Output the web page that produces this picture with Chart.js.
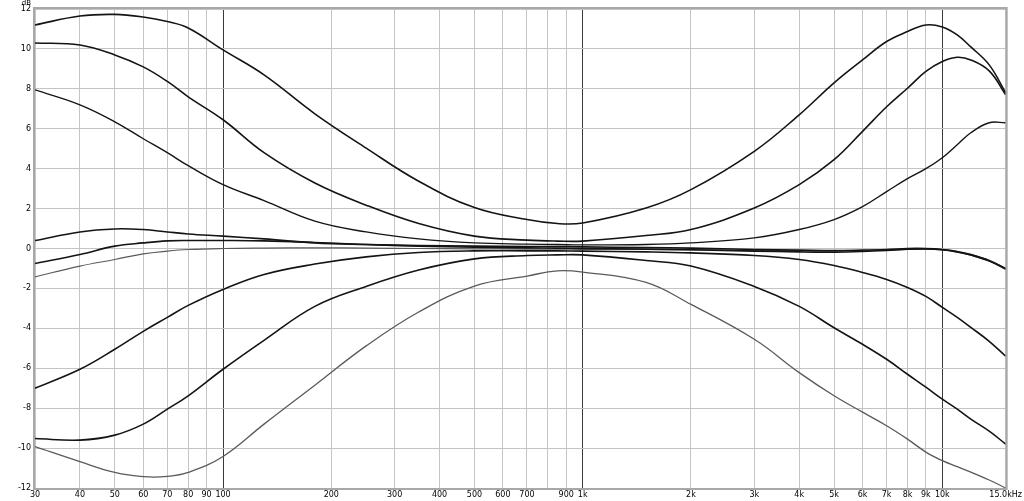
<!DOCTYPE html>
<html>
<head>
<meta charset="utf-8">
<script src="https://cdn.jsdelivr.net/npm/chart.js@4.4.1/dist/chart.umd.min.js"></script>
<style>
  html, body { margin: 0; padding: 0; background: #fff; }
  #wrap { width: 1024px; height: 501px; position: relative; }
</style>
</head>
<body>
<div id="wrap"><canvas id="eq"></canvas></div>
<script>
// frequency points (Hz) shared by every curve
const freqs = [30, 40, 50, 60, 70, 80, 100, 130, 180, 250, 350, 500, 700, 850, 1000,
  1500, 2000, 3000, 4000, 5000, 6000, 7000, 8000, 9000, 10000, 11000, 12000, 13500, 15000];

// gain curves, dB
const boostHigh = [11.2, 11.65, 11.73, 11.6, 11.37, 11.05, 9.95, 8.7, 6.75, 5.03, 3.37, 2.05, 1.45, 1.25, 1.28,
  2.03, 2.95, 4.87, 6.7, 8.3, 9.45, 10.37, 10.87, 11.2, 11.1, 10.7, 10.1, 9.2, 7.8];
const boostMid = [10.3, 10.2, 9.7, 9.1, 8.37, 7.6, 6.45, 4.8, 3.28, 2.17, 1.25, 0.62, 0.42, 0.37, 0.37,
  0.65, 0.95, 2.03, 3.2, 4.45, 5.87, 7.1, 8.03, 8.87, 9.37, 9.58, 9.45, 8.9, 7.7];
const boostLow = [7.95, 7.2, 6.35, 5.5, 4.8, 4.15, 3.2, 2.4, 1.37, 0.83, 0.48, 0.28, 0.22, 0.2, 0.18,
  0.2, 0.28, 0.53, 0.95, 1.45, 2.1, 2.85, 3.5, 4.0, 4.55, 5.2, 5.8, 6.3, 6.3];
const flatA = [0.4, 0.83, 0.98, 0.95, 0.83, 0.73, 0.62, 0.48, 0.28, 0.2, 0.15, 0.12, 0.1, 0.1, 0.08,
  0.05, 0.02, -0.05, -0.08, -0.1, -0.08, -0.05, 0.0, 0.0, -0.05, -0.15, -0.3, -0.6, -1.0];
const flatB = [-0.75, -0.3, 0.12, 0.28, 0.38, 0.4, 0.4, 0.38, 0.3, 0.2, 0.12, 0.06, 0.03, 0.02, 0.0,
  -0.03, -0.06, -0.13, -0.17, -0.18, -0.15, -0.1, -0.04, -0.02, -0.06, -0.17, -0.32, -0.62, -1.02];
const flatC = [-1.42, -0.88, -0.55, -0.27, -0.13, -0.05, 0.0, 0.02, 0.03, 0.02, 0.0, -0.02, -0.03, -0.03, -0.04,
  -0.05, -0.07, -0.1, -0.12, -0.12, -0.1, -0.07, -0.04, -0.03, -0.07, -0.18, -0.34, -0.64, -1.05];
const cutLow = [-7.0, -6.05, -5.05, -4.15, -3.45, -2.85, -2.05, -1.3, -0.78, -0.42, -0.2, -0.12, -0.12, -0.12, -0.13,
  -0.17, -0.22, -0.35, -0.55, -0.85, -1.2, -1.55, -1.95, -2.4, -2.95, -3.45, -3.95, -4.65, -5.4];
const cutMid = [-9.52, -9.6, -9.35, -8.8, -8.05, -7.38, -6.05, -4.6, -2.9, -1.9, -1.08, -0.52, -0.35, -0.32, -0.32,
  -0.6, -0.88, -1.9, -2.9, -3.97, -4.8, -5.55, -6.3, -6.95, -7.55, -8.05, -8.55, -9.15, -9.8];
const cutHigh = [-9.93, -10.68, -11.22, -11.43, -11.42, -11.22, -10.42, -8.8, -6.85, -4.88, -3.18, -1.88, -1.38, -1.12, -1.18,
  -1.7, -2.8, -4.55, -6.22, -7.38, -8.2, -8.88, -9.55, -10.2, -10.63, -10.93, -11.2, -11.6, -12.0];

// axis ticks
const xTicks = [30, 40, 50, 60, 70, 80, 90, 100, 200, 300, 400, 500, 600, 700, 800, 900,
  1000, 2000, 3000, 4000, 5000, 6000, 7000, 8000, 9000, 10000, 15000];
const xMajor = [100, 1000, 10000];
const xHidden = [800];
const yMin = -12;
const yMax = 12;

const toPoints = (vals) => freqs.map((f, i) => ({ x: f, y: vals[i] }));

const black = "#141414";
const gray = "#5a5a5a";
const series = [
  [boostHigh, black, 1.6],
  [boostMid, black, 1.6],
  [boostLow, black, 1.4],
  [flatA, black, 1.6],
  [flatB, black, 1.6],
  [flatC, gray, 1.2],
  [cutLow, black, 1.6],
  [cutMid, black, 1.6],
  [cutHigh, gray, 1.3],
];

const font = { family: "DejaVu Sans", size: 8 };

// frame + dB caption
const framePlugin = {
  id: "frame",
  afterDraw(chart) {
    const { ctx, chartArea: a } = chart;
    ctx.save();
    ctx.strokeStyle = "#a8a8a8";
    ctx.lineWidth = 2;
    ctx.strokeRect(a.left - 1, a.top - 1, a.right - a.left + 2, a.bottom - a.top + 2);
    ctx.fillStyle = "#000";
    ctx.font = "7px 'DejaVu Sans'";
    ctx.textAlign = "right";
    ctx.textBaseline = "alphabetic";
    ctx.fillText("dB", 31, 5);
    ctx.restore();
  },
};

new Chart(document.getElementById("eq"), {
  type: "line",
  data: {
    datasets: series.map(([vals, color, width]) => ({
      data: toPoints(vals),
      borderColor: color,
      borderWidth: width,
      pointRadius: 0,
      fill: false,
      tension: 0.4,
    })),
  },
  options: {
    responsive: true,
    maintainAspectRatio: false,
    animation: false,
    layout: { padding: { top: 9, right: 17, left: 0, bottom: 0 } },
    plugins: { legend: { display: false }, tooltip: { enabled: false } },
    scales: {
      x: {
        type: "logarithmic",
        min: 30,
        max: 15000,
        afterBuildTicks: (scale) => {
          scale.ticks = xTicks.map((v) => ({ value: v }));
        },
        afterFit: (scale) => {
          scale.height = 13;
        },
        ticks: {
          autoSkip: false,
          maxRotation: 0,
          padding: 2,
          color: "#000",
          font,
          callback: (value) => {
            if (xHidden.includes(value)) return "";
            if (value === 15000) return "15.0kHz";
            if (value >= 1000) return value / 1000 + "k";
            return String(value);
          },
        },
        grid: {
          drawTicks: false,
          color: (ctx) => (xMajor.includes(ctx.tick?.value) ? "#3a3a3a" : "#c4c4c4"),
          lineWidth: 1,
        },
        border: { display: false },
      },
      y: {
        min: yMin,
        max: yMax,
        afterFit: (scale) => {
          scale.width = 35;
        },
        ticks: {
          stepSize: 2,
          padding: 4,
          color: "#000",
          font,
        },
        grid: {
          drawTicks: false,
          color: "#c4c4c4",
        },
        border: { display: false },
      },
    },
  },
  plugins: [framePlugin],
});
</script>
</body>
</html>
